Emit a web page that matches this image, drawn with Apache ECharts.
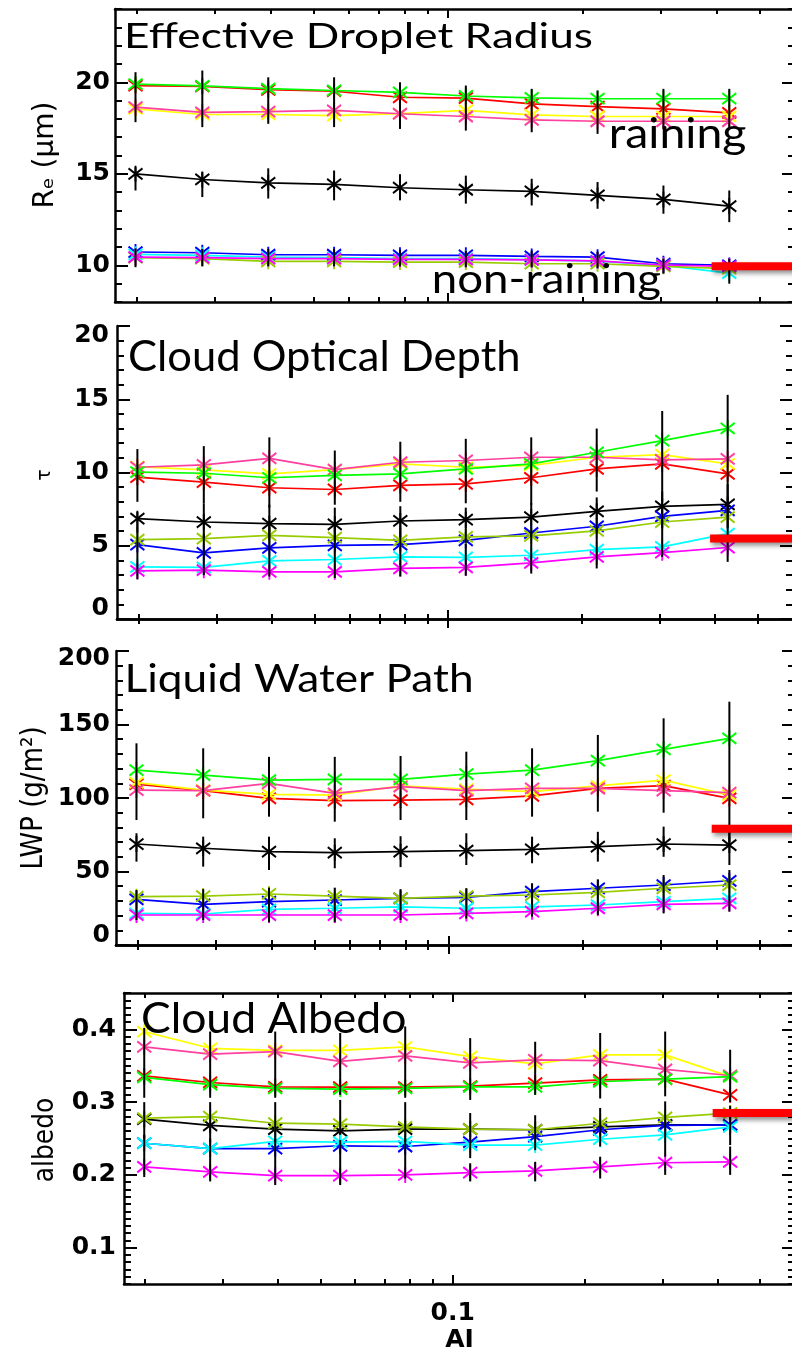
<!DOCTYPE html>
<html><head><meta charset="utf-8">
<script src="https://cdn.jsdelivr.net/npm/echarts@6/dist/echarts.min.js"></script>
<style>html,body{margin:0;padding:0;background:#fff}#c{width:792px;height:1353px}</style>
</head><body><div id="c"></div>
<script>
// ---------- data ----------
const ai = [0.0199, 0.0281, 0.0395, 0.0555, 0.0780, 0.1096, 0.1540, 0.2164, 0.3041, 0.4273];
const XMIN = 0.0179, XMAX = 0.6;
const xTickMajor = [0.1];
const xTickMinor = [0.02, 0.03, 0.04, 0.05, 0.06, 0.07, 0.08, 0.09, 0.2, 0.3, 0.4, 0.5];

// Effective droplet radius (um)
const re_black   = [15.0, 14.69, 14.51, 14.42, 14.24, 14.13, 14.04, 13.82, 13.6, 13.24];
const re_red     = [19.82, 19.77, 19.59, 19.51, 19.18, 19.13, 18.82, 18.67, 18.55, 18.33];
const re_green   = [19.9, 19.8, 19.65, 19.55, 19.45, 19.25, 19.15, 19.1, 19.1, 19.1];
const re_yellow  = [18.55, 18.24, 18.24, 18.18, 18.29, 18.46, 18.22, 18.13, 18.13, 18.13];
const re_pink    = [18.64, 18.36, 18.4, 18.46, 18.28, 18.13, 17.95, 17.87, 17.87, 17.87];
const re_blue    = [10.73, 10.69, 10.58, 10.58, 10.55, 10.55, 10.49, 10.45, 10.09, 10.0];
const re_cyan    = [10.6, 10.55, 10.45, 10.42, 10.37, 10.37, 10.31, 10.23, 10.0, 9.58];
const re_magenta = [10.45, 10.42, 10.37, 10.37, 10.33, 10.33, 10.3, 10.25, 10.02, 9.95];
const re_yg      = [10.42, 10.37, 10.22, 10.22, 10.18, 10.18, 10.09, 10.09, 9.95, 9.82];
const re_rainLo  = [17.82, 17.55, 17.73, 17.55, 17.45, 17.36, 17.27, 17.18, 17.45, 17.5];
const re_rainHi  = [20.55, 20.64, 20.27, 20.27, 20.0, 19.82, 19.64, 19.55, 19.64, 19.64];
const re_blackLo = [14.09, 13.73, 13.65, 13.55, 13.55, 13.37, 13.27, 13.09, 12.82, 12.36];
const re_blackHi = [15.36, 15.09, 15.3, 15.18, 14.98, 14.9, 14.73, 14.55, 14.36, 14.09];
const re_nonLo   = [9.9, 9.95, 9.95, 9.95, 9.95, 9.9, 9.9, 9.85, 9.55, 9.0];
const re_nonHi   = [10.93, 10.9, 10.9, 10.9, 10.85, 10.8, 10.8, 10.75, 10.36, 10.36];
const reTicks = [10, 15, 20];

// Cloud optical depth
const tau_black   = [6.85, 6.62, 6.51, 6.46, 6.69, 6.78, 6.96, 7.35, 7.69, 7.82];
const tau_red     = [9.68, 9.34, 8.96, 8.84, 9.12, 9.23, 9.64, 10.25, 10.59, 9.91];
const tau_green   = [10.02, 9.95, 9.64, 9.8, 9.91, 10.25, 10.59, 11.38, 12.18, 13.01];
const tau_yellow  = [10.4, 10.18, 9.9, 10.2, 10.59, 10.36, 10.48, 11.04, 11.22, 10.59];
const tau_pink    = [10.36, 10.52, 10.97, 10.2, 10.7, 10.82, 11.04, 11.04, 10.86, 10.93];
const tau_blue    = [5.08, 4.51, 4.85, 5.03, 5.08, 5.37, 5.87, 6.33, 7.0, 7.41];
const tau_cyan    = [3.56, 3.52, 3.97, 4.06, 4.24, 4.2, 4.35, 4.74, 4.92, 5.83];
const tau_magenta = [3.29, 3.33, 3.22, 3.22, 3.45, 3.52, 3.83, 4.24, 4.53, 4.88];
const tau_yg      = [5.42, 5.49, 5.71, 5.56, 5.37, 5.6, 5.67, 6.01, 6.62, 6.96];
const tau_rainLo  = [8.0, 7.9, 7.6, 7.8, 8.0, 7.9, 7.8, 8.7, 8.0, 7.6];
const tau_rainHi  = [11.6, 11.8, 12.4, 11.5, 12.1, 12.3, 12.4, 13.0, 14.2, 15.3];
const tau_blackLo = [5.9, 5.5, 5.4, 5.3, 5.6, 5.2, 5.6, 5.9, 6.2, 6.2];
const tau_blackHi = [7.3, 7.9, 7.8, 7.6, 7.7, 7.6, 7.9, 8.3, 8.7, 9.2];
const tau_nonLo   = [2.7, 3.0, 2.9, 2.8, 2.9, 2.95, 3.1, 3.45, 4.24, 3.9];
const tau_nonHi   = [6.3, 5.8, 6.3, 6.4, 6.2, 5.15, 6.0, 6.3, 7.0, 7.6];
const tauTicks = [0, 5, 10, 15, 20];

// Liquid water path (g/m2)
const lwp_black   = [68.7, 65.8, 63.5, 62.8, 63.5, 64.2, 65.1, 66.9, 68.7, 68.0];
const lwp_red     = [109.5, 105.0, 99.8, 98.2, 98.6, 99.1, 101.4, 106.6, 108.4, 99.8];
const lwp_green   = [119.0, 115.6, 112.2, 112.7, 112.7, 116.3, 119.0, 125.4, 133.1, 140.6];
const lwp_yellow  = [110.4, 105.4, 102.5, 102.0, 108.2, 106.1, 104.3, 108.2, 112.2, 102.0];
const lwp_pink    = [105.4, 105.0, 110.0, 103.2, 107.7, 105.0, 106.6, 106.6, 105.0, 103.6];
const lwp_blue    = [31.1, 27.7, 29.5, 30.6, 31.7, 32.4, 36.3, 38.6, 40.8, 43.7];
const lwp_cyan    = [21.5, 21.1, 24.3, 25.0, 26.0, 25.0, 26.0, 27.2, 29.5, 31.7];
const lwp_magenta = [20.4, 20.4, 20.4, 20.4, 20.4, 21.5, 22.7, 25.0, 27.7, 28.3];
const lwp_yg      = [32.9, 33.3, 34.7, 33.3, 31.7, 33.3, 34.0, 35.8, 38.6, 40.8];
const lwp_rainLo  = [85, 86.2, 87.3, 83.9, 85, 85, 87.3, 90.7, 90, 70];
const lwp_rainHi  = [137.2, 133.8, 128, 128, 128.6, 131.5, 133.8, 142.9, 154.2, 165.5];
const lwp_blackLo = [56.7, 53.3, 51, 52.2, 53, 54.4, 55.6, 56.7, 60, 54.4];
const lwp_blackHi = [76, 73.7, 73.7, 72.6, 74, 76, 73.7, 77, 80.5, 80];
const lwp_nonLo   = [17, 17, 15.5, 15.5, 17, 18, 19.3, 20.4, 21.5, 22.7];
const lwp_nonHi   = [37.4, 38, 39, 39, 38, 38.6, 42, 44.7, 47.6, 51];
const lwpTicks = [0, 50, 100, 150, 200];

// Cloud albedo
const alb_black   = [0.2766, 0.268, 0.263, 0.2605, 0.263, 0.263, 0.262, 0.266, 0.2687, 0.2687];
const alb_red     = [0.336, 0.327, 0.321, 0.3205, 0.3205, 0.322, 0.326, 0.3306, 0.3316, 0.310];
const alb_green   = [0.334, 0.324, 0.319, 0.318, 0.319, 0.321, 0.321, 0.328, 0.3316, 0.335];
const alb_yellow  = [0.397, 0.374, 0.371, 0.371, 0.376, 0.3626, 0.3526, 0.365, 0.365, 0.335];
const alb_pink    = [0.376, 0.366, 0.3695, 0.356, 0.3636, 0.354, 0.358, 0.357, 0.345, 0.3366];
const alb_blue    = [0.2435, 0.236, 0.236, 0.240, 0.239, 0.245, 0.2526, 0.262, 0.268, 0.2687];
const alb_cyan    = [0.2435, 0.236, 0.246, 0.245, 0.246, 0.241, 0.241, 0.249, 0.255, 0.266];
const alb_magenta = [0.211, 0.204, 0.199, 0.199, 0.200, 0.203, 0.2054, 0.211, 0.2167, 0.218];
const alb_yg      = [0.278, 0.280, 0.271, 0.2697, 0.266, 0.263, 0.262, 0.271, 0.279, 0.2848];
const alb_rainLo  = [0.306, 0.306, 0.306, 0.31, 0.306, 0.303, 0.31, 0.305, 0.308, 0.30];
const alb_rainHi  = [0.402, 0.397, 0.397, 0.395, 0.404, 0.388, 0.383, 0.395, 0.397, 0.372];
const alb_blackLo = [0.25, 0.245, 0.245, 0.255, 0.245, 0.223, 0.234, 0.239, 0.225, 0.241];
const alb_blackHi = [0.30, 0.30, 0.30, 0.303, 0.30, 0.285, 0.282, 0.292, 0.301, 0.295];
const alb_nonLo   = [0.197, 0.191, 0.186, 0.186, 0.195, 0.191, 0.191, 0.195, 0.2, 0.2];
const alb_nonHi   = [0.255, 0.25, 0.25, 0.248, 0.25, 0.216, 0.218, 0.225, 0.218, 0.239];
const albTicks = [0.1, 0.2, 0.3, 0.4];

// observed reference values (red bars) and their AI span
const obsValue = [9.95, 5.5, 79, 0.285];
const obsX = [0.39, 0.6];

// ---------- styling ----------
const COLORS = {black:'#000000', red:'#ff0000', green:'#00ff00', yellow:'#ffff00', pink:'#ff40a0',
  magenta:'#ff00ff', blue:'#0000ff', cyan:'#00ffff', yg:'#99cc00'};
const ORDER = ['black','blue','cyan','red','yellow','pink','green','yg','magenta'];
const STAR = 'path://M7,0L7,16M0,2.5L14,13.5M0,13.5L14,2.5';
const LABEL_FONT = {fontFamily:'DejaVu Sans', fontWeight:'bold', fontSize:25, color:'#000'};

const panels = [
  {grid:{left:115, top:9, width:680, height:293}, min:8, max:24, major:reTicks, minorStep:1, margin:5,
   lines:{black:re_black, red:re_red, green:re_green, yellow:re_yellow, pink:re_pink, blue:re_blue, cyan:re_cyan, magenta:re_magenta, yg:re_yg},
   err:[[re_rainLo, re_rainHi],[re_blackLo, re_blackHi],[re_nonLo, re_nonHi]], obs:obsValue[0]},
  {grid:{left:117, top:326, width:676, height:293}, min:0, max:20, major:tauTicks, minorStep:1, margin:8,
   lines:{black:tau_black, red:tau_red, green:tau_green, yellow:tau_yellow, pink:tau_pink, blue:tau_blue, cyan:tau_cyan, magenta:tau_magenta, yg:tau_yg},
   err:[[tau_rainLo, tau_rainHi],[tau_blackLo, tau_blackHi],[tau_nonLo, tau_nonHi]], obs:obsValue[1], shiftEnds:[22,18]},
  {grid:{left:116, top:651, width:679, height:294}, min:0, max:200, major:lwpTicks, minorStep:10, margin:6,
   lines:{black:lwp_black, red:lwp_red, green:lwp_green, yellow:lwp_yellow, pink:lwp_pink, blue:lwp_blue, cyan:lwp_cyan, magenta:lwp_magenta, yg:lwp_yg},
   err:[[lwp_rainLo, lwp_rainHi],[lwp_blackLo, lwp_blackHi],[lwp_nonLo, lwp_nonHi]], obs:obsValue[2], shiftEnds:[20,14]},
  {grid:{left:124, top:993, width:671, height:291}, min:0.05, max:0.45, major:albTicks, minorStep:0.01, margin:8,
   lines:{black:alb_black, red:alb_red, green:alb_green, yellow:alb_yellow, pink:alb_pink, blue:alb_blue, cyan:alb_cyan, magenta:alb_magenta, yg:alb_yg},
   err:[[alb_rainLo, alb_rainHi],[alb_blackLo, alb_blackHi],[alb_nonLo, alb_nonHi]], obs:obsValue[3], xLabels:true}
];

const grids = [], xAxes = [], yAxes = [], series = [];
panels.forEach((p, gi) => {
  grids.push(Object.assign({outerBoundsMode:'none', containLabel:false}, p.grid));
  const xa = (side, major) => {
    const ax = {type:'log', logBase:10, gridIndex:gi, position:side, min:XMIN, max:XMAX,
      axisLine:{show:major, lineStyle:{color:'#000', width:2.5}},
      axisTick:{show:true, inside:true, length: major ? 9 : 5, lineStyle:{color:'#000', width:2}},
      axisLabel:{show:false}, splitLine:{show:false}, minorTick:{show:false}};
    ax.axisTick.customValues = major ? xTickMajor : xTickMinor;
    if (p.xLabels && side === 'bottom' && major) {
      ax.axisLabel = Object.assign({show:true, customValues:xTickMajor, margin:17,
        formatter: v => String(+(+v).toPrecision(3))}, LABEL_FONT);
      ax.name = 'AI'; ax.nameLocation = 'middle'; ax.nameGap = 44;
      ax.nameTextStyle = Object.assign({}, LABEL_FONT);
    }
    return ax;
  };
  xAxes.push(xa('bottom', true), xa('bottom', false), xa('top', true), xa('top', false));
  const ya = (side, major) => {
    const ax = {type:'value', gridIndex:gi, position:side, min:p.min, max:p.max,
      axisLine:{show:major, onZero:false, lineStyle:{color:'#000', width:2.5}},
      axisTick:{show:true, inside:true, length: major ? 13 : 7, lineStyle:{color:'#000', width:2}},
      axisLabel:{show:false}, splitLine:{show:false}, minorTick:{show:false}};
    if (major) ax.axisTick.customValues = p.major; else ax.interval = p.minorStep;
    if (major && side === 'left') {
      const lbl = Object.assign({show:true, customValues:p.major, margin:p.margin}, LABEL_FONT);
      if (p.shiftEnds) {
        const lo = p.major[0], hi = p.major[p.major.length - 1];
        lbl.formatter = v => v === lo ? '{lo|' + v + '}' : (v === hi ? '{hi|' + v + '}' : String(v));
        lbl.rich = {lo: Object.assign({padding:[0,0,p.shiftEnds[0],0]}, LABEL_FONT),
                    hi: Object.assign({padding:[p.shiftEnds[1],0,0,0]}, LABEL_FONT)};
      } else {
        lbl.formatter = v => String(+(+v).toPrecision(4));
      }
      ax.axisLabel = lbl;
    }
    return ax;
  };
  yAxes.push(ya('left', true), ya('left', false), ya('right', true), ya('right', false));
  const xi = gi * 4, yi = gi * 4;

  ORDER.forEach((k, si) => {
    const c = COLORS[k];
    series.push({type:'line', name:k + gi, xAxisIndex:xi, yAxisIndex:yi, silent:true, animation:false,
      data: ai.map((x, i) => [x, p.lines[k][i]]),
      symbol:STAR, symbolSize:[14,16], showSymbol:true,
      lineStyle:{color:c, width:1.7}, itemStyle:{color:c, borderColor:c, borderWidth:2},
      emphasis:{disabled:true}, z:2 + si * 0.01});
  });
  p.err.forEach(([lo, hi], ei) => {
    series.push({type:'custom', name:'err' + gi + '_' + ei, xAxisIndex:xi, yAxisIndex:yi, silent:true, animation:false,
      data: ai.map((x, i) => [x, lo[i], hi[i]]),
      encode:{x:0, y:[1,2]},
      renderItem: (params, api) => {
        const a = api.coord([api.value(0), api.value(1)]);
        const b = api.coord([api.value(0), api.value(2)]);
        return {type:'line', shape:{x1:a[0], y1:a[1], x2:b[0], y2:b[1]}, style:{stroke:'#000', lineWidth:2}};
      }, z:3});
  });
  series.push({type:'line', name:'obs' + gi, xAxisIndex:xi, yAxisIndex:yi, silent:true, animation:false,
    data: obsX.map(x => [x, p.obs]), symbol:'none', clip:false,
    lineStyle:{color:'#ff0000', width:8, cap:'butt', shadowColor:'rgba(0,0,0,0.45)', shadowBlur:5, shadowOffsetX:2, shadowOffsetY:3},
    z:4});
});

// ---------- text annotations ----------
const mctx = document.createElement('canvas').getContext('2d');
function measure(text, font) {
  mctx.font = font; mctx.textAlign = 'left';
  mctx.textBaseline = 'alphabetic';
  const a = mctx.measureText(text);
  mctx.textBaseline = 'middle';
  const m = mctx.measureText(text);
  return {abl:a.actualBoundingBoxLeft, inkW:a.actualBoundingBoxLeft + a.actualBoundingBoxRight,
          off:a.actualBoundingBoxAscent - m.actualBoundingBoxAscent};
}
function flatText(text, font, left, baseline, targetW) {
  const t = measure(text, font);
  const sx = targetW ? targetW / t.inkW : 1;
  return {type:'text', x:left + t.abl * sx, y:baseline - t.off, scaleX:sx, silent:true, z:100,
    style:{text, font, fill:'#000', align:'left', textAlign:'left', verticalAlign:'middle', textVerticalAlign:'middle'}};
}
function sideText(text, font, baselineX, centerY, sy) {
  const t = measure(text, font);
  sy = sy || 1;
  return {type:'text', x:baselineX - t.off * sy, y:centerY, rotation:Math.PI / 2, scaleY:sy, silent:true, z:100,
    style:{text, font, fill:'#000', align:'center', textAlign:'center', verticalAlign:'middle', textVerticalAlign:'middle'}};
}
const TF = 'Lato';
const graphics = [
  flatText('Effective Droplet Radius', '34px ' + TF, 128, 48, 464),
  flatText('raining', '43px ' + TF, 612, 148, 134),
  flatText('non-raining', '40px ' + TF, 434, 293, 226),
  flatText('Cloud Optical Depth', '42px ' + TF, 130, 371, 388),
  flatText('Liquid Water Path', '38px ' + TF, 128, 692, 343),
  flatText('Cloud Albedo', '43px ' + TF, 143, 1033, 262),
  sideText('R\u2091 (\u03bcm)', '28px "DejaVu Sans"', 53, 155, 1.0),
  sideText('\u03c4', '19px "DejaVu Sans"', 50, 475),
  sideText('LWP (g/m\u00b2)', '26px "DejaVu Sans"', 42, 798, 1.15),
  sideText('albedo', '25px "DejaVu Sans"', 53, 1140, 1.1)
];

const chart = echarts.init(document.getElementById('c'), null, {renderer:'canvas', width:792, height:1353});
chart.setOption({
  animation:false, backgroundColor:'#ffffff',
  grid:grids, xAxis:xAxes, yAxis:yAxes, series:series,
  graphic:{elements:graphics}
});
</script>
</body></html>
